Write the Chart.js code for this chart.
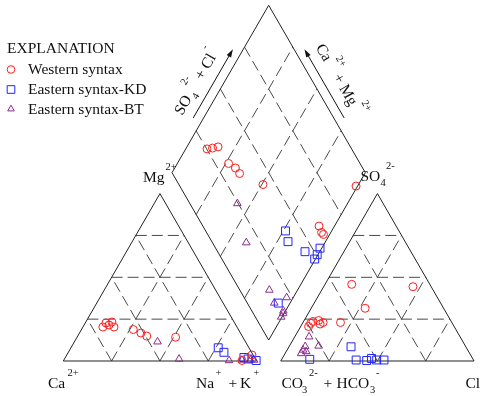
<!DOCTYPE html>
<html>
<head>
<meta charset="utf-8">
<script src="https://cdn.jsdelivr.net/npm/chart.js@4/dist/chart.umd.min.js"></script>
<style>
  html, body { margin: 0; padding: 0; background: #fff; }
  #wrap { width: 481px; height: 396px; }
</style>
</head>
<body>
<div id="wrap"><canvas id="piper" width="481" height="396"></canvas></div>
<script>
const groupNames = ['Western syntax', 'Eastern syntax-KD', 'Eastern syntax-BT'];

// cation triangle: [Mg %, Na+K %]
const westCation = [[20.3, 10.3], [22.7, 10.7], [21.5, 12.9], [23.3, 13.5], [20.3, 16.1], [18.8, 26.8], [16.7, 31.8], [14.9, 35.7], [14.2, 51], [0.3, 92.3], [3.6, 95.8]];
const kdCation = [[7.9, 76.2], [5.2, 80.5], [2.1, 92.4], [1.2, 95], [0.3, 99.6]];
const btCation = [[11.5, 43], [1.2, 59.3], [0.3, 85.6], [0.6, 92.1], [0.6, 96.5], [0.6, 98.4]];

// anion triangle: [SO4 %, Cl %]
const westAnion = [[45.8, 13.8], [44.4, 46.2], [31.5, 27.9], [23, 19.4], [20.6, 4.1], [22.5, 4.2], [23.6, 4.9], [24.2, 7.5], [22.1, 9.3], [23, 10.4]];
const kdAnion = [[8.5, 32.1], [1, 14.5], [0.6, 38.7], [0.3, 44.3], [1.5, 46.2], [0.6, 49.3], [0.6, 53.1]];
const btAnion = [[14.5, 7.4], [9, 15.1], [8.7, 8.3], [6.6, 8.2], [5.7, 10.3], [4.5, 8.3]];

// diamond: [Na+K %, SO4+Cl %]
const westDiamond = [[11, 25.2], [13.6, 28.3], [16.1, 31.5], [26.5, 32], [31.4, 34.2], [35.2, 34.7], [50.6, 43.5], [92, 60.1], [95.2, 59.5], [96.8, 59.9], [99.2, 91.2]];
const kdDiamond = [[76.1, 41.3], [80.6, 39.4], [92.4, 45.2], [99.1, 54], [99.6, 50.6], [99.6, 48], [93.9, 16]];
const btDiamond = [[43, 24.6], [59.3, 17.5], [85.4, 15.3], [96.6, 22], [91.8, 14], [98.9, 16.3], [99.5, 15.4], [99.6, 13.4]];

const gridSteps = [25, 50, 75];

// geometry of the piper plot (triangle side = 100)
const L = 100, GAP = 12.5, H = Math.sqrt(3) / 2;
const cat = (mg, nak) => ({ x: nak + mg / 2, y: mg * H });
const ani = (so4, cl) => ({ x: L + GAP + cl + so4 / 2, y: so4 * H });
const dia = (nak, sc) => { const t = L + GAP + sc - nak; return { x: nak + t / 2, y: t * H }; };

const colors = ['#ff1e1e', '#2323ff', '#8c2c8c'];
const styles = ['circle', 'rect', 'triangle'];
const radii = [4, 5.6, 4.4];
const FONT = '"Liberation Serif", "Times New Roman", serif';

// page mapping: 1 unit = UNIT px, Ca corner at (63.3, 361)
const UNIT = 1.933;
const xMin = -63.3 / UNIT, xMax = xMin + 481 / UNIT;
const yMin = -(396 - 361) / UNIT, yMax = yMin + 396 / UNIT;

const datasets = [];
[[westCation, westAnion, westDiamond], [kdCation, kdAnion, kdDiamond], [btCation, btAnion, btDiamond]].forEach((s, i) => {
    datasets.push({
        label: groupNames[i],
        data: [...s[0].map(p => cat(p[0], p[1])), ...s[1].map(p => ani(p[0], p[1])), ...s[2].map(p => dia(p[0], p[1]))],
        pointStyle: styles[i], pointRadius: radii[i], borderColor: colors[i], backgroundColor: 'rgba(0,0,0,0)',
        borderWidth: 1, showLine: false, order: 0
    });
});

function addLine(pts, dashed) {
    datasets.push({
        data: pts, showLine: true, pointRadius: 0, fill: false, tension: 0,
        borderColor: dashed ? '#4a4a4a' : '#222', borderWidth: 1, borderDash: dashed ? [11, 5] : [], order: 1
    });
}

// outlines
addLine([cat(0, 0), cat(0, 100), cat(100, 0), cat(0, 0)], false);
addLine([ani(0, 0), ani(0, 100), ani(100, 0), ani(0, 0)], false);
addLine([dia(0, 0), dia(100, 0), dia(100, 100), dia(0, 100), dia(0, 0)], false);

// dashed grid
gridSteps.forEach(p => {
    addLine([cat(p, 0), cat(p, 100 - p)], true);
    addLine([cat(0, p), cat(100 - p, p)], true);
    addLine([cat(0, 100 - p), cat(100 - p, 0)], true);
    addLine([ani(p, 0), ani(p, 100 - p)], true);
    addLine([ani(0, p), ani(100 - p, p)], true);
    addLine([ani(0, 100 - p), ani(100 - p, 0)], true);
    addLine([dia(p, 0), dia(p, 100)], true);
    addLine([dia(0, p), dia(100, p)], true);
});

// text with super/subscripts; part = [text, kind, x] (x absolute) or sequential when x is undefined
function drawParts(ctx, x0, y0, parts, gap) {
    let cx = x0;
    parts.forEach(([t, kind, x]) => {
        const small = kind !== 'n';
        ctx.font = (small ? '10.5px ' : '15.5px ') + FONT;
        const dy = kind === 'sup' ? -12 : kind === 'sub' ? 5 : 0;
        const px = x !== undefined ? x : cx + (small ? gap : 0);
        ctx.fillText(t, px, y0 + dy);
        cx = px + ctx.measureText(t).width;
    });
}

function marker(ctx, style, x, y, r) {
    ctx.beginPath();
    if (style === 'circle') ctx.arc(x, y, r, 0, Math.PI * 2);
    else if (style === 'rect') { const s = r * Math.SQRT1_2; ctx.rect(x - s, y - s, 2 * s, 2 * s); }
    else {
        for (let k = 0; k < 3; k++) {
            const a = k * 2 * Math.PI / 3;
            const fx = x + Math.sin(a) * r, fy = y - Math.cos(a) * r;
            k ? ctx.lineTo(fx, fy) : ctx.moveTo(fx, fy);
        }
        ctx.closePath();
    }
    ctx.stroke();
}

const piperText = {
    id: 'piperText',
    afterDraw(chart) {
        const ctx = chart.ctx, sx = chart.scales.x, sy = chart.scales.y;
        const px = p => ({ x: sx.getPixelForValue(p.x), y: sy.getPixelForValue(p.y) });
        ctx.save();
        ctx.fillStyle = '#111';
        ctx.textBaseline = 'alphabetic';

        // corner labels
        drawParts(ctx, 0, 388, [['Ca', 'n', 48], ['2+', 'sup', 67.5]]);
        drawParts(ctx, 0, 388, [['Na', 'n', 196], ['+', 'sup', 215.5], ['+', 'n', 228.5], ['K', 'n', 240], ['+', 'sup', 253.5]]);
        drawParts(ctx, 0, 388, [['CO', 'n', 281.5], ['3', 'sub', 302], ['2-', 'sup', 309], ['+', 'n', 323.5], ['HCO', 'n', 336.5], ['3', 'sub', 370], ['-', 'sup', 376]]);
        drawParts(ctx, 0, 388, [['Cl', 'n', 465.5]]);
        drawParts(ctx, 0, 181.5, [['Mg', 'n', 143], ['2+', 'sup', 165.5]]);
        drawParts(ctx, 0, 181, [['SO', 'n', 360.5], ['4', 'sub', 380.5], ['2-', 'sup', 386]]);

        // diamond edge arrows and labels
        const left = px(dia(0, 0)), top = px(dia(0, 100)), right = px(dia(100, 100));
        const edge = (a, b, sign) => {
            const len = Math.hypot(b.x - a.x, b.y - a.y);
            const u = { x: (b.x - a.x) / len, y: (b.y - a.y) / len };
            const n = sign < 0 ? { x: u.y, y: -u.x } : { x: -u.y, y: u.x };
            return { len, u, n, at: (f, off) => ({ x: a.x + u.x * len * f + n.x * off, y: a.y + u.y * len * f + n.y * off }) };
        };
        ctx.strokeStyle = '#111';
        ctx.lineWidth = 1;
        [edge(left, top, -1), edge(right, top, 1)].forEach(e => {
            const s = e.at(0.3, 9), t = e.at(0.7, 9);
            ctx.beginPath(); ctx.moveTo(s.x, s.y); ctx.lineTo(t.x, t.y); ctx.stroke();
            ctx.beginPath();
            ctx.moveTo(t.x + e.u.x * 2, t.y + e.u.y * 2);
            ctx.lineTo(t.x - e.u.x * 6 + e.n.x * 2.5, t.y - e.u.y * 6 + e.n.y * 2.5);
            ctx.lineTo(t.x - e.u.x * 6 - e.n.x * 2.5, t.y - e.u.y * 6 - e.n.y * 2.5);
            ctx.closePath(); ctx.fill();
        });
        const el = edge(left, top, -1);
        let o = el.at(0.28, 19.5);
        ctx.save(); ctx.translate(o.x, o.y); ctx.rotate(Math.atan2(el.u.y, el.u.x));
        drawParts(ctx, 0, 0, [['SO', 'n'], ['4', 'sub'], ['2-', 'sup'], [' + Cl', 'n'], ['-', 'sup']], 1.5);
        ctx.restore();
        const er = edge(right, top, 1);
        o = er.at(0.69, 19.5);
        ctx.save(); ctx.translate(o.x, o.y); ctx.rotate(Math.atan2(-er.u.y, -er.u.x));
        drawParts(ctx, 0, 0, [['Ca', 'n'], ['2+', 'sup'], [' + Mg', 'n'], ['2+', 'sup']], 2);
        ctx.restore();

        // legend
        ctx.font = '15.5px ' + FONT;
        ctx.fillText('EXPLANATION', 7, 52.5);
        const rows = [74, 94, 113.5];
        groupNames.forEach((name, i) => {
            ctx.fillStyle = '#111';
            ctx.font = '15.5px ' + FONT;
            ctx.fillText(name, 28, rows[i]);
            ctx.strokeStyle = colors[i];
            marker(ctx, styles[i], 11, rows[i] - 4.5, i === 1 ? 5.4 : 3.8);
        });
        ctx.restore();
    }
};

new Chart(document.getElementById('piper'), {
    type: 'scatter',
    data: { datasets },
    options: {
        responsive: false, animation: false, events: [],
        layout: { padding: 0, autoPadding: false },
        plugins: { legend: { display: false }, tooltip: { enabled: false } },
        scales: {
            x: { type: 'linear', min: xMin, max: xMax, display: false },
            y: { type: 'linear', min: yMin, max: yMax, display: false }
        }
    },
    plugins: [piperText]
});
</script>
</body>
</html>
